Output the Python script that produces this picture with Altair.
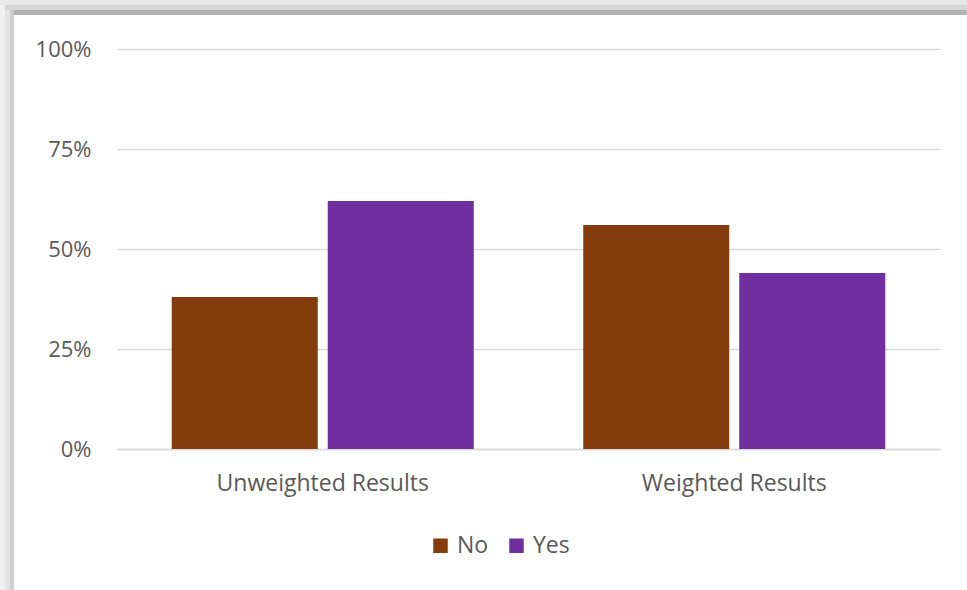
import altair as alt
import pandas as pd

groups = ["Unweighted Results", "Weighted Results"]
answers = ["No", "Yes"]
no_share = [0.38, 0.56]
yes_share = [0.62, 0.44]
colors = ["#843C0C", "#7030A0"]

rows = []
for g, n, y in zip(groups, no_share, yes_share):
    rows.append({"group": g, "answer": "No", "share": n})
    rows.append({"group": g, "answer": "Yes", "share": y})
df = pd.DataFrame(rows)

FONT = "Open Sans"
TEXT = "#595959"
GRID = "#d9d9d9"

bars = alt.Chart(df).mark_bar().encode(
    x=alt.X("group:N", sort=groups, title=None,
            scale=alt.Scale(paddingInner=0.266, paddingOuter=0.133),
            axis=alt.Axis(labelAngle=0, labelFont=FONT, labelFontSize=23,
                          labelColor=TEXT, labelPadding=23, ticks=False,
                          labelLimit=0, domainColor=GRID, domainWidth=1.5)),
    xOffset=alt.XOffset("answer:N", sort=answers,
                        scale=alt.Scale(paddingInner=0.064, paddingOuter=0)),
    y=alt.Y("share:Q", title=None,
            scale=alt.Scale(domain=[0, 1]),
            axis=alt.Axis(values=[0, 0.25, 0.5, 0.75, 1], format=".0%",
                          labelFont=FONT, labelFontSize=22, labelColor=TEXT,
                          labelPadding=26, ticks=False, domain=False,
                          gridColor=GRID, gridWidth=1.5)),
    color=alt.Color("answer:N", sort=answers,
                    scale=alt.Scale(domain=answers, range=colors),
                    legend=alt.Legend(title=None, orient="none", direction="horizontal",
                                      legendX=312, legendY=485,
                                      symbolType="square", symbolSize=210,
                                      symbolStrokeWidth=0, labelFont=FONT,
                                      labelFontSize=23, labelColor=TEXT,
                                      labelOffset=5, columnPadding=16)),
)

# shaded frame along the top and left edges
frame = pd.DataFrame([
    {"x": -117, "x2": 850, "y": -49, "y2": -44, "c": "#e9e9e9"},
    {"x": -117, "x2": 850, "y": -44, "y2": -39, "c": "#d6d6d6"},
    {"x": -103, "x2": 850, "y": -39, "y2": -34, "c": "#b4b4b4"},
    {"x": -117, "x2": -112, "y": -44, "y2": 541, "c": "#f0f0f0"},
    {"x": -112, "x2": -107, "y": -39, "y2": 541, "c": "#e4e4e4"},
    {"x": -107, "x2": -103, "y": -39, "y2": 541, "c": "#cfcfcf"},
])
shade = alt.Chart(frame).mark_rect().encode(
    x=alt.X("x:Q", scale=None), x2="x2:Q",
    y=alt.Y("y:Q", scale=None), y2="y2:Q",
    color=alt.Color("c:N", scale=None),
)

chart = alt.layer(shade, bars).resolve_scale(
    x="independent", y="independent", color="independent"
).properties(
    width=823, height=400,
    autosize=alt.AutoSizeParams(type="none"),
    padding={"left": 117, "top": 49, "right": 27, "bottom": 141},
    background="white",
).configure_view(stroke=None)

chart.save("out.html", embed_options={"renderer": "svg", "actions": False})
